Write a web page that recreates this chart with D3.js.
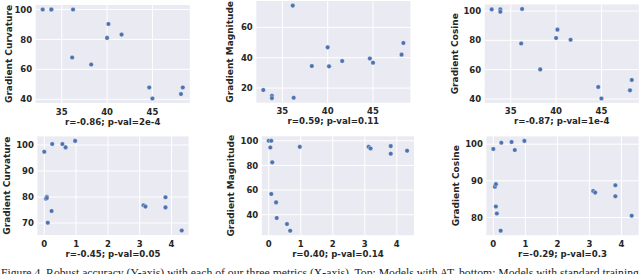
<!DOCTYPE html>
<html>
<head>
<script src="https://cdn.jsdelivr.net/npm/d3@7"></script>
<style>
  body { margin: 0; background: #fff; }
  text { font-family: "DejaVu Sans", sans-serif; font-weight: bold; fill: #262626; }
  .caption { font-family: "Liberation Serif", "DejaVu Serif", serif; font-weight: normal; fill: #222; }
</style>
</head>
<body>
<svg id="chart" width="640" height="274"></svg>
<script>
// robust accuracy of the AT models (top row) and standard models (bottom row)
const xTop = [32.9, 33.85, 33.85, 36.25, 36.15, 38.25, 40.0, 40.15, 41.6, 44.65, 45.0, 48.15, 48.35];
const xBottom = [0.0, 0.05, 0.08, 0.08, 0.11, 0.23, 0.25, 0.57, 0.67, 0.97, 3.12, 3.18, 3.81, 3.81, 4.32];

const curvTop = [100, 100, 100, 100, 67.9, 63.2, 81, 90.3, 83.2, 47.9, 40.5, 43.5, 47.9];
const magTop = [18.7, 14.9, 13.4, 13.6, 74.3, 34.5, 46.8, 34.3, 37.8, 39.5, 36.7, 42, 49.7];
const cosTop = [101.1, 101.1, 99.5, 101.4, 77.9, 60.2, 81.6, 87.3, 80.4, 48.2, 40.4, 45.9, 53];

const curvBottom = [97.4, 79.3, 80.1, 79.6, 70.1, 74.6, 100.4, 100.4, 99.1, 101.6, 76.8, 76.3, 79.9, 76.0, 67.1];
const magBottom = [100, 94.6, 100, 56.8, 82.5, 50, 37.3, 32.4, 27, 95.1, 95.1, 93.8, 95.7, 89.5, 91.9];
const cosBottom = [98.7, 88.4, 89.1, 83.0, 81.1, 76.4, 100.4, 100.6, 98.4, 100.9, 87.2, 86.8, 88.8, 85.8, 80.5];

const yLabels = ["Gradient Curvature", "Gradient Magnitude", "Gradient Cosine"];
const statsTop = ["r=-0.86; p-val=2e-4", "r=0.59; p-val=0.11", "r=-0.87; p-val=1e-4"];
const statsBottom = ["r=-0.45; p-val=0.05", "r=0.40; p-val=0.14", "r=-0.29; p-val=0.3"];

const xTicksTop = [35, 40, 45];
const xTicksBottom = [0, 1, 2, 3, 4];
const yTicks = [
  [40, 60, 80, 100], [20, 40, 60], [40, 60, 80, 100],
  [70, 80, 90, 100], [40, 60, 80, 100], [80, 90, 100]
];

const caption = "Figure 4. Robust accuracy (Y-axis) with each of our three metrics (X-axis). Top: Models with AT, bottom: Models with standard training";

// plot boxes
const boxes = [
  { x0: 35.7, x1: 189.8, y0: 5, y1: 103, labelX: 8.3 },
  { x0: 256.3, x1: 410.4, y0: 1, y1: 102.7, labelX: 230 },
  { x0: 484.7, x1: 638.8, y0: 4.5, y1: 102.9, labelX: 455 },
  { x0: 37.4, x1: 188.6, y0: 136.4, y1: 235, labelX: 6.7 },
  { x0: 261.8, x1: 414, y0: 136.3, y1: 235.2, labelX: 230.7 },
  { x0: 486.4, x1: 638.6, y0: 136.4, y1: 235.2, labelX: 455.7 }
];

const panels = [
  { xs: xTop, ys: curvTop, ylab: yLabels[0], xlab: statsTop[0], xt: xTicksTop },
  { xs: xTop, ys: magTop, ylab: yLabels[1], xlab: statsTop[1], xt: xTicksTop },
  { xs: xTop, ys: cosTop, ylab: yLabels[2], xlab: statsTop[2], xt: xTicksTop },
  { xs: xBottom, ys: curvBottom, ylab: yLabels[0], xlab: statsBottom[0], xt: xTicksBottom },
  { xs: xBottom, ys: magBottom, ylab: yLabels[1], xlab: statsBottom[1], xt: xTicksBottom },
  { xs: xBottom, ys: cosBottom, ylab: yLabels[2], xlab: statsBottom[2], xt: xTicksBottom }
];

const svg = d3.select("#chart");

// matplotlib style autoscale: 5% margin each side
function padded(vals) {
  const [lo, hi] = d3.extent(vals);
  const m = (hi - lo) * 0.05;
  return [lo - m, hi + m];
}

panels.forEach((p, i) => {
  const b = boxes[i];
  const x = d3.scaleLinear().domain(padded(p.xs)).range([b.x0, b.x1]);
  const y = d3.scaleLinear().domain(padded(p.ys)).range([b.y1, b.y0]);
  const g = svg.append("g");

  g.append("rect")
    .attr("x", b.x0).attr("y", b.y0)
    .attr("width", b.x1 - b.x0).attr("height", b.y1 - b.y0)
    .attr("fill", "#eaeaf2");

  g.selectAll(".gx").data(p.xt).enter().append("line")
    .attr("x1", d => x(d)).attr("x2", d => x(d))
    .attr("y1", b.y0).attr("y2", b.y1)
    .attr("stroke", "#fff").attr("stroke-width", 1);
  g.selectAll(".gy").data(yTicks[i]).enter().append("line")
    .attr("y1", d => y(d)).attr("y2", d => y(d))
    .attr("x1", b.x0).attr("x2", b.x1)
    .attr("stroke", "#fff").attr("stroke-width", 1);

  g.selectAll(".tx").data(p.xt).enter().append("text")
    .attr("x", d => x(d)).attr("y", b.y1 + 11.5)
    .attr("text-anchor", "middle").attr("font-size", 8.5)
    .text(d => d);
  g.selectAll(".ty").data(yTicks[i]).enter().append("text")
    .attr("x", b.x0 - 3.5).attr("y", d => y(d) + 3.1)
    .attr("text-anchor", "end").attr("font-size", 8.5)
    .text(d => d);

  g.append("text")
    .attr("x", (b.x0 + b.x1) / 2).attr("y", b.y1 + 21.5)
    .attr("text-anchor", "middle").attr("font-size", 8.6)
    .text(p.xlab);
  g.append("text")
    .attr("transform", `translate(${b.labelX + 3.3},${(b.y0 + b.y1) / 2}) rotate(-90)`)
    .attr("text-anchor", "middle").attr("font-size", 9)
    .text(p.ylab);

  g.selectAll(".pt").data(p.xs.map((v, k) => [v, p.ys[k]])).enter().append("circle")
    .attr("cx", d => x(d[0])).attr("cy", d => y(d[1]))
    .attr("r", 2.3)
    .attr("fill", "#4c72b0").attr("stroke", "#fff").attr("stroke-width", 0.4);
});

svg.append("text").attr("class", "caption")
  .attr("x", 1).attr("y", 276.5).attr("font-size", 11.7)
  .text(caption);
</script>
</body>
</html>
